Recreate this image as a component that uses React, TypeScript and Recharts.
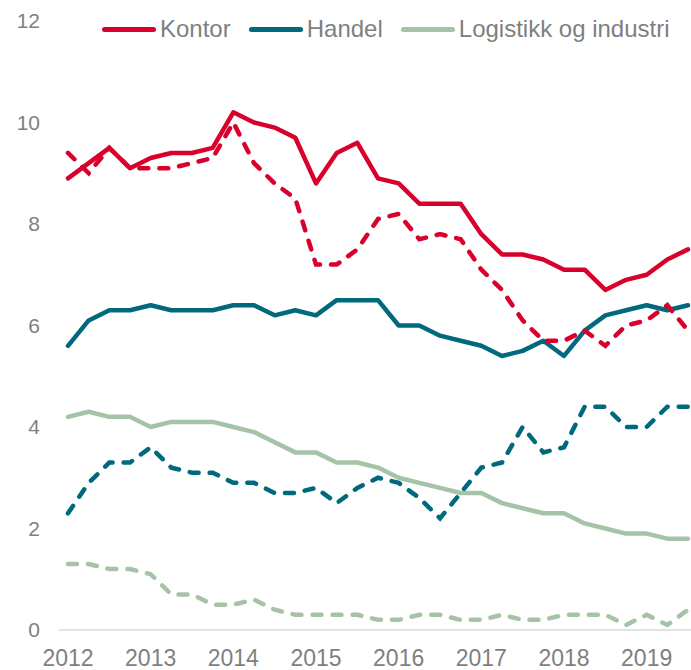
import { Legend, Line, LineChart, XAxis, YAxis } from "recharts";

const quarters = [
  "2012K1", "2012K2", "2012K3", "2012K4",
  "2013K1", "2013K2", "2013K3", "2013K4",
  "2014K1", "2014K2", "2014K3", "2014K4",
  "2015K1", "2015K2", "2015K3", "2015K4",
  "2016K1", "2016K2", "2016K3", "2016K4",
  "2017K1", "2017K2", "2017K3", "2017K4",
  "2018K1", "2018K2", "2018K3", "2018K4",
  "2019K1", "2019K2", "2019K3",
];
const yearTicks = ["2012K1", "2013K1", "2014K1", "2015K1", "2016K1", "2017K1", "2018K1", "2019K1"];
const yTicks = [0, 2, 4, 6, 8, 10, 12];

// solid lines
const kontor = [8.9, 9.2, 9.5, 9.1, 9.3, 9.4, 9.4, 9.5, 10.2, 10.0, 9.9, 9.7, 8.8, 9.4, 9.6, 8.9, 8.8, 8.4, 8.4, 8.4, 7.8, 7.4, 7.4, 7.3, 7.1, 7.1, 6.7, 6.9, 7.0, 7.3, 7.5];
const handel = [5.6, 6.1, 6.3, 6.3, 6.4, 6.3, 6.3, 6.3, 6.4, 6.4, 6.2, 6.3, 6.2, 6.5, 6.5, 6.5, 6.0, 6.0, 5.8, 5.7, 5.6, 5.4, 5.5, 5.7, 5.4, 5.9, 6.2, 6.3, 6.4, 6.3, 6.4];
const logistikk = [4.2, 4.3, 4.2, 4.2, 4.0, 4.1, 4.1, 4.1, 4.0, 3.9, 3.7, 3.5, 3.5, 3.3, 3.3, 3.2, 3.0, 2.9, 2.8, 2.7, 2.7, 2.5, 2.4, 2.3, 2.3, 2.1, 2.0, 1.9, 1.9, 1.8, 1.8];

// dashed lines
const kontorDashed = [9.4, 9.0, 9.5, 9.1, 9.1, 9.1, 9.2, 9.3, 10.0, 9.2, 8.8, 8.5, 7.2, 7.2, 7.5, 8.1, 8.2, 7.7, 7.8, 7.7, 7.1, 6.7, 6.1, 5.7, 5.7, 5.9, 5.6, 6.0, 6.1, 6.4, 5.9];
const handelDashed = [2.3, 2.9, 3.3, 3.3, 3.6, 3.2, 3.1, 3.1, 2.9, 2.9, 2.7, 2.7, 2.8, 2.5, 2.8, 3.0, 2.9, 2.6, 2.2, 2.7, 3.2, 3.3, 4.0, 3.5, 3.6, 4.4, 4.4, 4.0, 4.0, 4.4, 4.4];
const logistikkDashed = [1.3, 1.3, 1.2, 1.2, 1.1, 0.7, 0.7, 0.5, 0.5, 0.6, 0.4, 0.3, 0.3, 0.3, 0.3, 0.2, 0.2, 0.3, 0.3, 0.2, 0.2, 0.3, 0.2, 0.2, 0.3, 0.3, 0.3, 0.1, 0.3, 0.1, 0.4];

const RED = "#DA002C";
const TEAL = "#00697D";
const GREEN = "#A6C3A8";
const TEXT = "#7F7F7F";
const FONT = '"Liberation Sans", Arial, sans-serif';

const legendItems = [
  { name: "Kontor", color: RED },
  { name: "Handel", color: TEAL },
  { name: "Logistikk og industri", color: GREEN },
];

const data = quarters.map((q, i) => ({
  q,
  kontor: kontor[i],
  handel: handel[i],
  logistikk: logistikk[i],
  kontorDashed: kontorDashed[i],
  handelDashed: handelDashed[i],
  logistikkDashed: logistikkDashed[i],
}));

function ChartLegend() {
  return (
    <div style={{ display: "flex", alignItems: "center", fontFamily: FONT, fontSize: 24, color: TEXT }}>
      {legendItems.map((item) => (
        <div key={item.name} style={{ display: "flex", alignItems: "center", marginRight: 18 }}>
          <span
            style={{
              display: "inline-block",
              width: 54,
              height: 5,
              borderRadius: 3,
              background: item.color,
              marginRight: 4,
            }}
          />
          <span>{item.name}</span>
        </div>
      ))}
    </div>
  );
}

const DASH = "9 11";

export default function App() {
  return (
    <div style={{ position: "absolute", left: 0, top: 0, width: 691, height: 670, background: "#fff" }}>
      <LineChart width={691} height={670} data={data} margin={{ top: 21, right: 0, bottom: 0, left: 0 }}>
        <XAxis
          dataKey="q"
          ticks={yearTicks}
          interval={0}
          tickFormatter={(v: string) => v.slice(0, 4)}
          tick={{ fontSize: 23, fill: TEXT, fontFamily: FONT }}
          axisLine={{ stroke: "#D9D9D9", strokeWidth: 1.5 }}
          tickLine={false}
          tickSize={0}
          tickMargin={20}
          height={40}
          padding={{ left: 9, right: 3 }}
        />
        <YAxis
          domain={[0, 12]}
          ticks={yTicks}
          width={59}
          tick={{ fontSize: 21, fill: TEXT, fontFamily: FONT }}
          axisLine={false}
          tickLine={false}
          tickSize={0}
          tickMargin={19}
        />
        <Legend
          layout="horizontal"
          verticalAlign="middle"
          align="center"
          content={() => <ChartLegend />}
          wrapperStyle={{ top: 15, left: 102, width: 589, height: 28 }}
        />
        <Line dataKey="kontor" name="Kontor" stroke={RED} strokeWidth={4.5} dot={false} type="linear" strokeLinejoin="round" strokeLinecap="round" isAnimationActive={false} />
        <Line dataKey="handel" name="Handel" stroke={TEAL} strokeWidth={4.5} dot={false} type="linear" strokeLinejoin="round" strokeLinecap="round" isAnimationActive={false} />
        <Line dataKey="logistikk" name="Logistikk og industri" stroke={GREEN} strokeWidth={4.5} dot={false} type="linear" strokeLinejoin="round" strokeLinecap="round" isAnimationActive={false} />
        <Line dataKey="kontorDashed" legendType="none" stroke={RED} strokeWidth={4.5} strokeDasharray={DASH} strokeLinecap="round" dot={false} type="linear" isAnimationActive={false} />
        <Line dataKey="handelDashed" legendType="none" stroke={TEAL} strokeWidth={4.5} strokeDasharray={DASH} strokeLinecap="round" dot={false} type="linear" isAnimationActive={false} />
        <Line dataKey="logistikkDashed" legendType="none" stroke={GREEN} strokeWidth={4.5} strokeDasharray={DASH} strokeLinecap="round" dot={false} type="linear" isAnimationActive={false} />
      </LineChart>
    </div>
  );
}
